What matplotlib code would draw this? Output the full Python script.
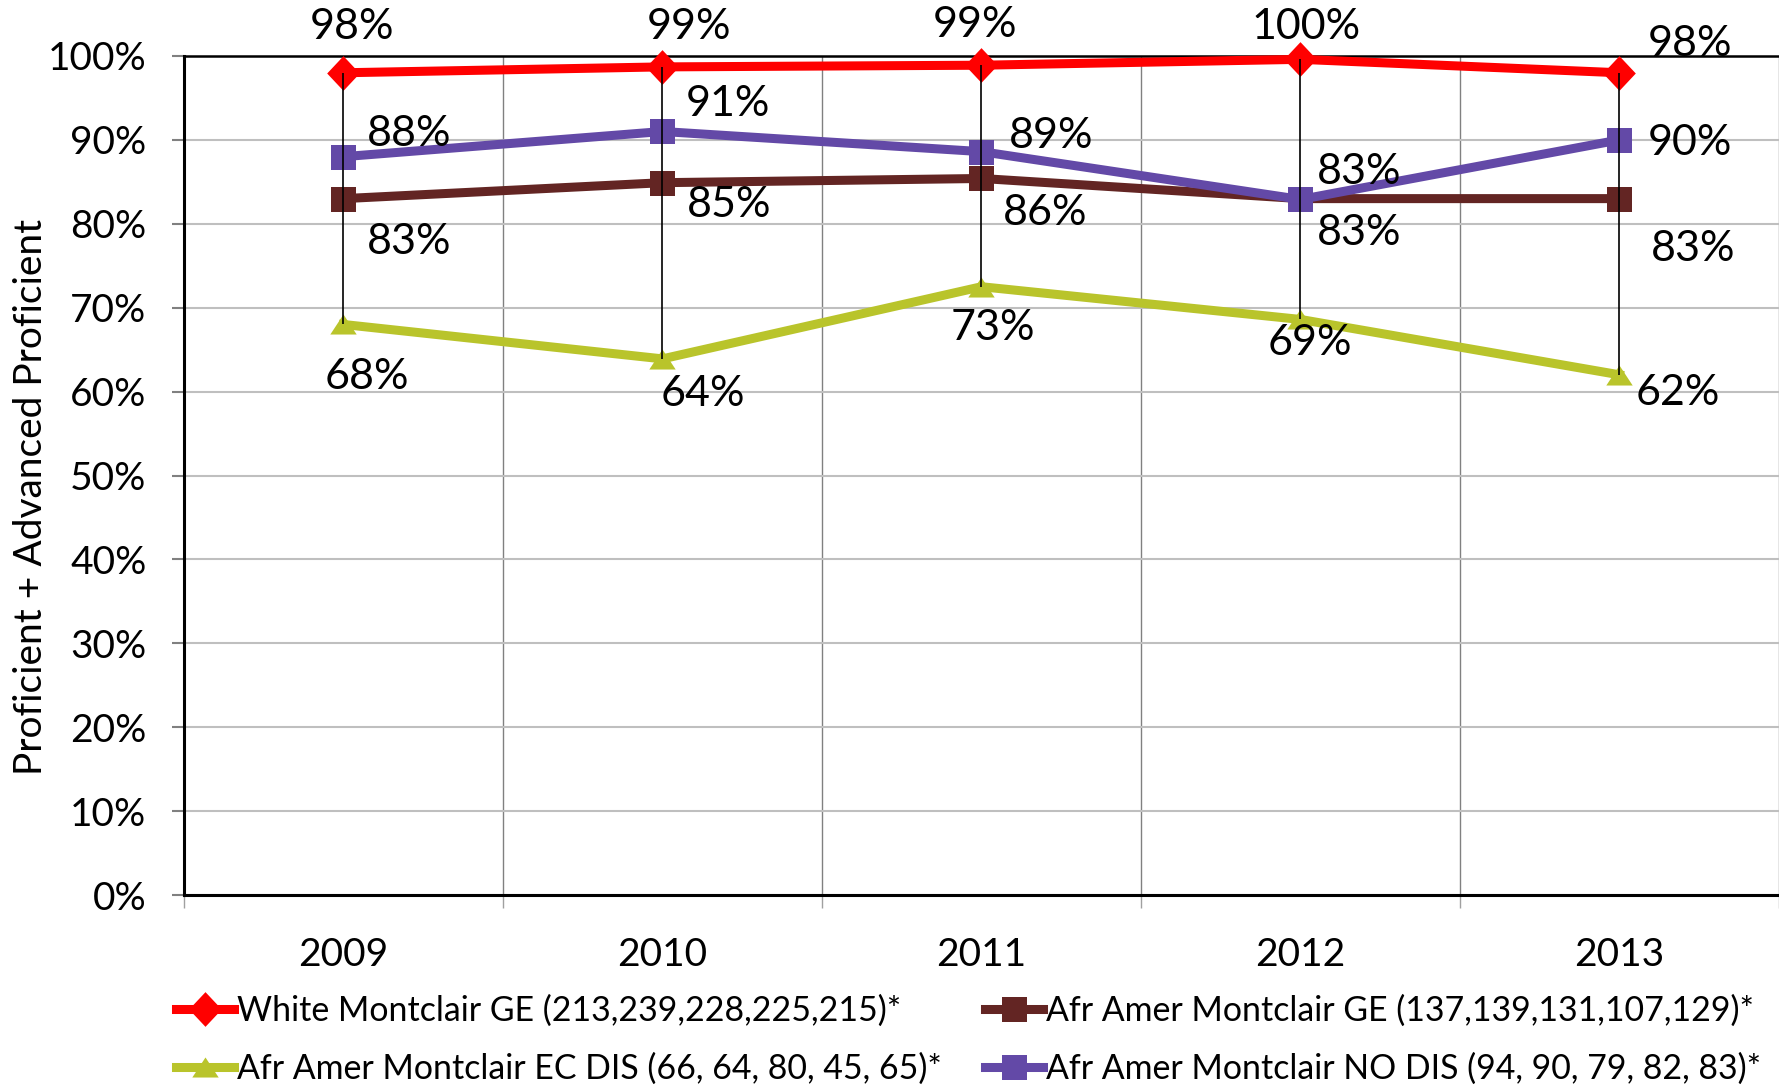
import numpy as np
import matplotlib
matplotlib.use("Agg")
import matplotlib.pyplot as plt
from matplotlib.lines import Line2D

# ---- data ----
years = ["2009", "2010", "2011", "2012", "2013"]

white_ge = [98.0, 98.7, 98.9, 99.6, 98.0]
afr_ge = [83.0, 84.9, 85.4, 83.0, 83.0]
afr_ec_dis = [68.0, 63.9, 72.5, 68.6, 62.0]
afr_no_dis = [88.0, 91.0, 88.6, 82.9, 90.0]

white_lbl = ["98%", "99%", "99%", "100%", "98%"]
afr_ge_lbl = ["83%", "85%", "86%", "83%", "83%"]
ec_dis_lbl = ["68%", "64%", "73%", "69%", "62%"]
no_dis_lbl = ["88%", "91%", "89%", "83%", "90%"]

legend_names = [
    "White Montclair GE (213,239,228,225,215)*",
    "Afr Amer Montclair GE (137,139,131,107,129)*",
    "Afr Amer Montclair EC DIS (66, 64, 80, 45, 65)*",
    "Afr Amer Montclair NO DIS (94, 90, 79, 82, 83)*",
]

plt.rcParams["font.family"] = ["Lato", "DejaVu Sans"]

# Excel-style markers
DIAMOND = [(0, 0.5), (0.47, 0), (0, -0.5), (-0.47, 0), (0, 0.5)]
SQUARE = [(-0.5, -0.5), (0.5, -0.5), (0.5, 0.5), (-0.5, 0.5), (-0.5, -0.5)]
TRI = [(-0.5, -0.38), (0.5, -0.38), (0, 0.38), (-0.5, -0.38)]

fig = plt.figure(figsize=(17.79, 10.85), dpi=100)
ax = fig.add_axes([0.1034, 0.1751, 0.8966, 0.7733])

x = np.arange(len(years)) + 0.5

# high-low drop lines
allv = np.array([white_ge, afr_ge, afr_ec_dis, afr_no_dis])
ax.vlines(x, allv.min(axis=0), allv.max(axis=0), color="black", lw=1.2, zorder=4)

series = [
    (white_ge, "#FF0000", DIAMOND, 25, white_lbl,
     [(6, 33), (19, 29), (-5, 29), (4, 23), (51, 21)]),
    (afr_ge, "#632523", SQUARE, 18, afr_ge_lbl,
     [(47, -31), (48, -16), (46, -25), (42, -25), (53, -36)]),
    (afr_ec_dis, "#B9C42B", TRI, 19, ec_dis_lbl,
     [(17, -38), (29, -25), (8, -30), (7, -17), (42, -13)]),
    (afr_no_dis, "#6349A7", SQUARE, 18, no_dis_lbl,
     [(47, 16), (47, 20), (50, 11), (42, 20), (51, -2)]),
]

handles = []
for vals, col, mk, ms, lbls, offs in series:
    ax.plot(x, vals, color=col, lw=6.5, marker=mk, markersize=ms,
            markeredgewidth=0, zorder=3, clip_on=False)
    for xi, v, t, (dx, dy) in zip(x, vals, lbls, offs):
        ax.annotate(t, (xi, v), xytext=(dx, dy), textcoords="offset points",
                    ha="center", va="center", fontsize=31, color="black",
                    annotation_clip=False, zorder=6)
    handles.append(Line2D([0], [0], color=col, lw=6.5, marker=mk,
                          markersize=ms, markeredgewidth=0))

ax.set_xlim(0, 5)
ax.set_ylim(0, 100)
ax.set_yticks(np.arange(0, 101, 10))
ax.set_yticklabels([f"{v}%" for v in range(0, 101, 10)])
ax.set_xticks(x)
ax.set_xticklabels(years)
ax.set_xticks(np.arange(0, 6), minor=True)

ax.tick_params(axis="y", labelsize=28, length=9, width=1.5, color="#808080",
               direction="out", pad=18)
ax.tick_params(axis="x", which="major", labelsize=28, length=0, pad=30)
ax.tick_params(axis="x", which="minor", length=9, width=1, color="#A0A0A0",
               direction="out")

ax.grid(axis="y", color="#BFBFBF", lw=1.5, zorder=0)
ax.grid(axis="x", which="minor", color="#808080", lw=1, zorder=0)
ax.set_axisbelow(True)

for side in ("left", "bottom"):
    ax.spines[side].set_linewidth(2.2)
    ax.spines[side].set_color("black")
ax.spines["top"].set_linewidth(1.8)
ax.spines["right"].set_visible(False)

ax.set_ylabel("Proficient + Advanced Proficient", fontsize=28, va="center")
ax.yaxis.set_label_coords(-0.096, 0.475)

# two legend columns placed separately (row 1: White / Afr GE, row 2: EC DIS / NO DIS)
leg_kw = dict(loc="upper left", frameon=False, fontsize=24.4, handlelength=1.7,
              handletextpad=0.1, labelspacing=0.74, borderaxespad=0, borderpad=0)
fig.legend([handles[0], handles[2]], [legend_names[0], legend_names[2]],
           bbox_to_anchor=(0.099, 0.083), **leg_kw)
fig.legend([handles[1], handles[3]], [legend_names[1], legend_names[3]],
           bbox_to_anchor=(0.5537, 0.083), **leg_kw)

fig.savefig("out.png", dpi=100)
